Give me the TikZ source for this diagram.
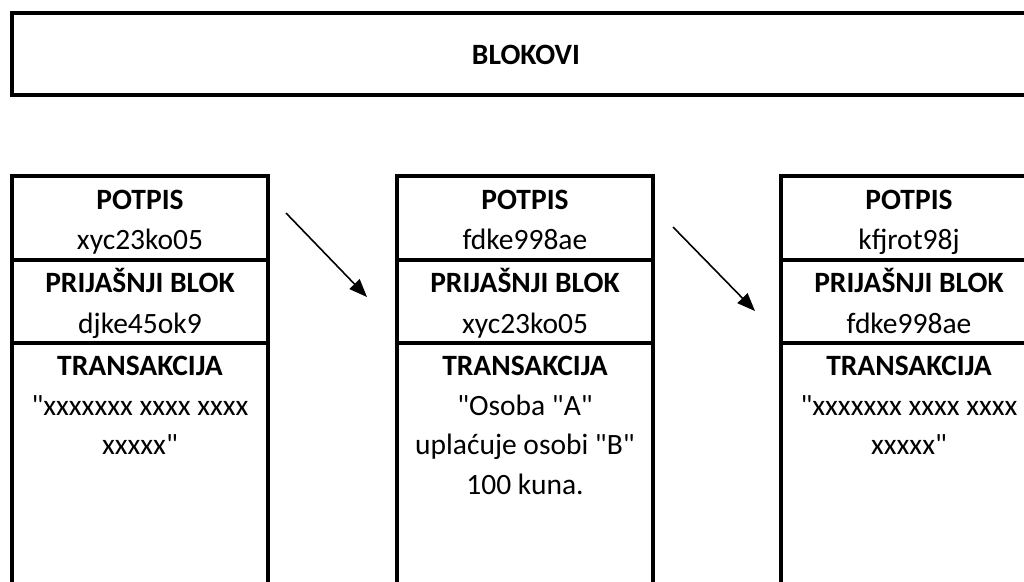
\documentclass[tikz,border=0pt]{standalone}
\usepackage{fontspec}
\setmainfont{Carlito}[Ligatures=TeXOff]
\usetikzlibrary{arrows.meta}
\begin{document}
\begin{tikzpicture}[x=1pt,y=-1pt,
  frame/.style={draw=black,line width=3.4pt},
  head/.style={font=\fontsize{29.5}{34}\selectfont\bfseries,inner sep=0pt,anchor=base},
  val/.style={font=\fontsize{29.5}{34}\selectfont,inner sep=0pt,anchor=base},
  link/.style={line width=1.6pt,-{Triangle[length=18pt,width=14pt]}}]
\useasboundingbox (0,0) rectangle (1024,581);
\clip (0,0) rectangle (1024,581);
% top bar
\draw[frame] (12,13) rectangle (1038,95);
\node[head] (title) at (526,64) {BLOKOVI};
% columns
\foreach \L/\id in {12/a,397/b,781/c}{
  \draw[frame] (\L,176) rectangle ++(256,440);
  \draw[frame] (\L,260) -- ++(256,0);
  \draw[frame] (\L,343) -- ++(256,0);
  \node[head] (pot\id) at (\L+128,209) {POTPIS};
  \node[head] (pri\id) at (\L+128,292) {PRIJAŠNJI BLOK};
  \node[head] (tra\id) at (\L+128,375) {TRANSAKCIJA};
}
\node[val] (sa) at (140,249) {xyc23ko05};
\node[val] (sb) at (525,249) {fdke998ae};
\node[val] (sc) at (909,249) {kfjrot98j};
\node[val] (ha) at (140,333) {djke45ok9};
\node[val] (hb) at (525,333) {xyc23ko05};
\node[val] (hc) at (909,333) {fdke998ae};
\node[val] (ta1) at (140,415) {"xxxxxxx xxxx xxxx};
\node[val] (ta2) at (140,454) {xxxxx"};
\node[val] (tb1) at (525,415) {"Osoba "A"};
\node[val] (tb2) at (525,454) {uplaćuje osobi "B"};
\node[val] (tb3) at (525,494) {100 kuna.};
\node[val] (tc1) at (909,415) {"xxxxxxx xxxx xxxx};
\node[val] (tc2) at (909,454) {xxxxx"};
% arrows
\coordinate (a1s) at (286,213);
\coordinate (a1e) at (367,297);
\coordinate (a2s) at (673,227);
\coordinate (a2e) at (755,311);
\draw[link] (a1s) -- (a1e);
\draw[link] (a2s) -- (a2e);
\end{tikzpicture}
\end{document}
